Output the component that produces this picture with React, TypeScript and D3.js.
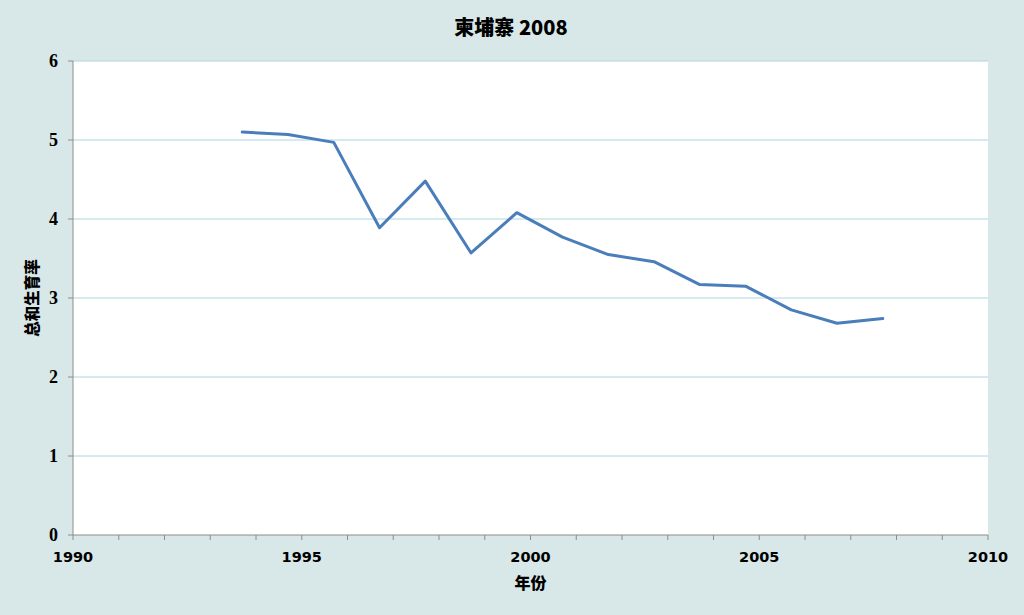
import React from "react";
import * as d3 from "d3";

const years = [1993.7, 1994.7, 1995.7, 1996.7, 1997.7, 1998.7, 1999.7, 2000.7, 2001.7, 2002.7, 2003.7, 2004.7, 2005.7, 2006.7, 2007.7];
const tfr = [5.10, 5.07, 4.97, 3.89, 4.48, 3.57, 4.08, 3.77, 3.55, 3.46, 3.17, 3.15, 2.85, 2.68, 2.74];
const xTicks = [1990, 1995, 2000, 2005, 2010];
const xMinorTicks = d3.range(1990, 2011);
const yTicks = [0, 1, 2, 3, 4, 5, 6];
const title = "柬埔寨 2008";
const xLabel = "年份";
const yLabel = "总和生育率";

export default function App() {
  const W = 1024, H = 615;
  const m = { left: 73, right: 1024 - 988, top: 61, bottom: 615 - 535 };
  const x = d3.scaleLinear().domain([1990, 2010]).range([m.left, W - m.right]);
  const y = d3.scaleLinear().domain([0, 6]).range([H - m.bottom, m.top]);
  const line = d3.line<number>().x((_, i) => x(years[i])).y((d) => y(d));
  const axisColor = "#8c8c8c";
  const tickFont = "'DejaVu Sans', Verdana, sans-serif";
  return (
    <div style={{ position: "absolute", left: 0, top: 0, width: W, height: H }}>
      <svg width={W} height={H} style={{ display: "block" }}>
        <rect x={0} y={0} width={W} height={H} fill="#d8e7e7" />
        <rect x={x(1990)} y={y(6)} width={x(2010) - x(1990)} height={y(0) - y(6)} fill="#ffffff" />
        {yTicks.filter((t) => t > 0).map((t) => (
          <line key={"g" + t} x1={x(1990)} x2={x(2010)} y1={y(t)} y2={y(t)} stroke="#acd6df" strokeWidth={1} />
        ))}
        <line x1={x(1990)} x2={x(1990)} y1={y(0)} y2={y(6)} stroke={axisColor} strokeWidth={1} />
        <line x1={x(1990)} x2={x(2010)} y1={y(0)} y2={y(0)} stroke={axisColor} strokeWidth={1} />
        {yTicks.map((t) => (
          <g key={"y" + t}>
            <line x1={x(1990) - 5} x2={x(1990)} y1={y(t)} y2={y(t)} stroke={axisColor} />
            <text x={x(1990) - 15} y={y(t)} dy="0.35em" textAnchor="end" fontFamily="'Liberation Serif', serif" fontWeight="bold" fontSize={18} fill="#000">{t}</text>
          </g>
        ))}
        {xMinorTicks.map((t) => (
          <line key={"xm" + t} x1={x(t)} x2={x(t)} y1={y(0)} y2={y(0) + 5} stroke={axisColor} />
        ))}
        {xTicks.map((t) => (
          <text key={"x" + t} x={x(t)} y={y(0) + 22} dy="0.35em" textAnchor="middle" fontFamily={tickFont} fontWeight="bold" fontSize={14.5} fill="#000">{t}</text>
        ))}
        <path d={line(tfr) || ""} fill="none" stroke="#4a7ebb" strokeWidth={3} strokeLinejoin="round" strokeLinecap="round" />
        <text x={511} y={28} dy="0.35em" textAnchor="middle" fontFamily={"'Noto Sans CJK SC', " + tickFont} fontWeight={900} fontSize={20} fill="#000">{title}</text>
        <text x={(x(1990) + x(2010)) / 2} y={583} dy="0.35em" textAnchor="middle" fontFamily="'Noto Sans CJK SC', sans-serif" fontWeight={900} fontSize={16} fill="#000">{xLabel}</text>
        <text transform={`translate(33, ${(y(0) + y(6)) / 2}) rotate(-90)`} dy="0.35em" textAnchor="middle" fontFamily="'Noto Sans CJK SC', sans-serif" fontWeight={900} fontSize={15.5} fill="#000">{yLabel}</text>
      </svg>
    </div>
  );
}
